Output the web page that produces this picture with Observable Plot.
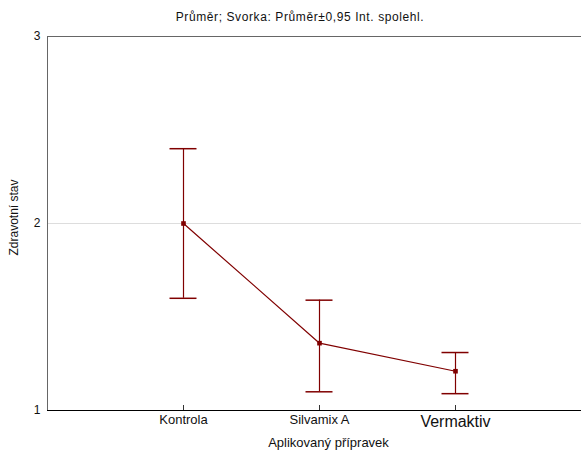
<!DOCTYPE html>
<html>
<head>
<meta charset="utf-8">
<script src="https://cdn.jsdelivr.net/npm/d3@7"></script>
<script src="https://cdn.jsdelivr.net/npm/@observablehq/plot@0.6"></script>
<style>
  html, body { margin: 0; padding: 0; background: white; overflow: hidden; }
  #title { width: 581px; height: 28px; box-sizing: border-box; padding-left: 19px; padding-top: 11px;
    text-align: center; font: 12px "Liberation Sans", Arial, sans-serif; letter-spacing: 0.6px; color: #111; line-height: 12px; }
  #chart { width: 581px; overflow: hidden; }
  #chart svg { max-width: none !important; overflow: hidden; }
</style>
</head>
<body>
<div id="title">Průměr; Svorka: Průměr±0,95 Int. spolehl.</div>
<div id="chart"></div>
<script>
const categories = ["Kontrola", "Silvamix A", "Vermaktiv"];
const means = [2.0, 1.36, 1.21];
const lower = [1.6, 1.10, 1.09];
const upper = [2.40, 1.59, 1.31];
const yTicks = [1, 2, 3];

const data = categories.map((c, i) => ({cat: c, mean: means[i], lo: lower[i], hi: upper[i]}));
const red = "#800000";
const font = "Liberation Sans, Arial, sans-serif";

const chart = Plot.plot({
  width: 591,
  height: 422,
  marginLeft: 47,
  marginRight: 0,
  marginTop: 8,
  marginBottom: 40,
  style: {fontFamily: font, color: "#111"},
  x: {type: "band", domain: categories, paddingInner: 0, paddingOuter: 0.5, axis: null},
  y: {domain: [1, 3], axis: null},
  marks: [
    Plot.ruleY([2], {stroke: "#dddddd"}),
    Plot.ruleY([3], {stroke: "#666"}),
    Plot.frame({anchor: "left", stroke: "#666"}),
    Plot.ruleY([1], {stroke: "black"}),
    Plot.axisY({ticks: yTicks, tickSize: 0, tickPadding: 7, fontSize: 12, label: null, tickFormat: d => d}),
    Plot.axisX({ticks: categories, tickSize: -5, tickFormat: () => "", label: null, stroke: "#333"}),
    Plot.text(categories.slice(0, 2), {x: d => d, frameAnchor: "bottom", dy: 13, fontSize: 13}),
    Plot.text(categories.slice(2), {x: d => d, frameAnchor: "bottom", dy: 16, fontSize: 16}),
    Plot.text(["Aplikovaný přípravek"], {frameAnchor: "bottom", dy: 36, dx: 9, fontSize: 13, letterSpacing: 0.4}),
    Plot.text(["Zdravotní stav"], {frameAnchor: "left", textAnchor: "middle", rotate: -90, dx: -33, dy: -6, fontSize: 12}),
    Plot.ruleX(data, {x: "cat", y1: "lo", y2: "hi", stroke: red, strokeWidth: 1.2}),
    Plot.tickY(data, {x: "cat", y: "lo", stroke: red, strokeWidth: 1.5, insetLeft: 54.5, insetRight: 54.5}),
    Plot.tickY(data, {x: "cat", y: "hi", stroke: red, strokeWidth: 1.5, insetLeft: 54.5, insetRight: 54.5}),
    Plot.line(data, {x: "cat", y: "mean", stroke: red, strokeWidth: 1.2}),
    Plot.dot(data, {x: "cat", y: "mean", symbol: "square", r: 2.6, fill: red, stroke: "none"})
  ]
});
document.getElementById("chart").appendChild(chart);
</script>
</body>
</html>
